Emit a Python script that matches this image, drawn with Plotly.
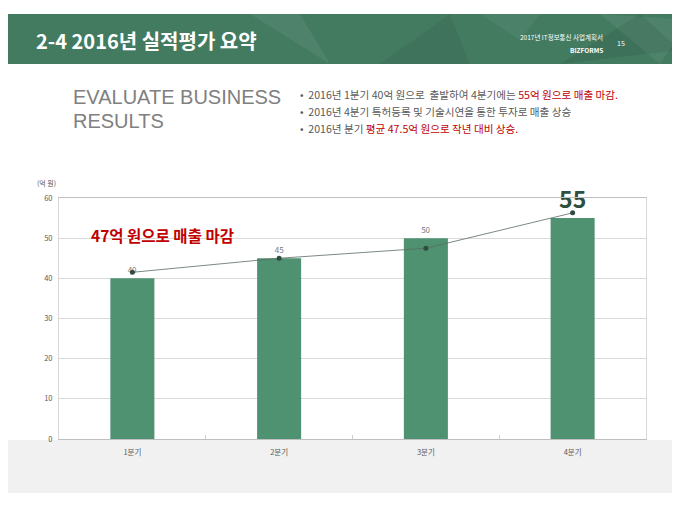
import plotly.graph_objects as go

quarters = ["1분기", "2분기", "3분기", "4분기"]
sales = [40, 45, 50, 55]
trend = [41.5, 45, 47.5, 56.3]
y_ticks = [0, 10, 20, 30, 40, 50, 60]

KR = "Noto Sans CJK KR"
W, H = 680, 510
OFF = 8  # page body margin
L, R, T, B = 59, 646, 198, 439  # reference pixel frame of plot area

def px(x):
    return (x - L) / (R - L)

def py(y):
    return (B - y) / (B - T)

fig = go.Figure()

labels = [str(v) if i < len(sales) - 1 else "<b>%d</b>" % v for i, v in enumerate(sales)]
fig.add_trace(go.Bar(
    x=quarters, y=sales, width=0.3,
    marker=dict(color="#4e9272", line=dict(width=0)),
    text=labels, textposition="outside", cliponaxis=False,
    textfont=dict(family=KR, size=[8, 8, 8, 23],
                  color=["#7a7a7a", "#7a7a7a", "#7a7a7a", "#2e4f40"]),
    hoverinfo="skip",
))
fig.add_trace(go.Scatter(
    x=quarters, y=trend, mode="lines+markers",
    line=dict(color="#5a6b62", width=0.8),
    marker=dict(color="#2f4c3e", size=5),
    hoverinfo="skip", cliponaxis=False,
))

def tri(a, b, c, color):
    return dict(type="path", xref="paper", yref="paper",
                path="M %f %f L %f %f L %f %f Z" % (px(a[0]), py(a[1]), px(b[0]), py(b[1]), px(c[0]), py(c[1])),
                fillcolor=color, line=dict(width=0), layer="below")

shapes = [
    dict(type="rect", xref="paper", yref="paper", x0=px(-10), x1=px(W + 10), y0=py(64), y1=py(14),
         fillcolor="#437b61", line=dict(width=0), layer="below"),
    tri((250, 14), (330, 64), (300, 14), "rgba(255,255,255,0.06)"),
    tri((380, 64), (450, 14), (470, 64), "rgba(0,0,0,0.06)"),
    tri((560, 64), (640, 14), (680, 50), "rgba(0,0,0,0.08)"),
    tri((600, 14), (660, 64), (690, 20), "rgba(255,255,255,0.06)"),
    tri((480, 14), (520, 40), (540, 14), "rgba(255,255,255,0.05)"),
    dict(type="rect", xref="paper", yref="paper", x0=px(-10), x1=px(W + 10), y0=py(493), y1=py(440),
         fillcolor="#f1f1f1", line=dict(width=0), layer="below"),
]

ann = [
    dict(text="<b>2-4 2016년 실적평가 요약</b>", x=px(34), y=py(40), xanchor="left", yanchor="middle",
         font=dict(family=KR, size=20, color="white")),
    dict(text="2017년 IT정보통신 사업계획서", x=px(605), y=py(37), xanchor="right", yanchor="middle",
         font=dict(family=KR, size=6.5, color="white")),
    dict(text="<b>BIZFORMS</b>", x=px(605), y=py(50), xanchor="right", yanchor="middle",
         font=dict(family=KR, size=6.5, color="white")),
    dict(text="15", x=px(621), y=py(43), xanchor="center", yanchor="middle",
         font=dict(family=KR, size=7, color="white")),
    dict(text="EVALUATE BUSINESS", x=px(71), y=py(97), xanchor="left", yanchor="middle",
         font=dict(family="Liberation Sans", size=20, color="#808080")),
    dict(text="RESULTS", x=px(71), y=py(121), xanchor="left", yanchor="middle",
         font=dict(family="Liberation Sans", size=20, color="#808080")),
    dict(text="•  2016년 1분기 40억 원으로  출발하여 4분기에는 <span style='color:#c00000'>55억 원으로 매출 마감.</span>",
         x=px(298), y=py(95), xanchor="left", yanchor="middle",
         font=dict(family=KR, size=10.6, color="#595959")),
    dict(text="•  2016년 4분기 특허등록 및 기술시연을 통한 투자로 매출 상승",
         x=px(298), y=py(112), xanchor="left", yanchor="middle",
         font=dict(family=KR, size=10.6, color="#595959")),
    dict(text="•  2016년 분기 <span style='color:#c00000'>평균 47.5억 원으로 작년 대비 상승.</span>",
         x=px(298), y=py(129), xanchor="left", yanchor="middle",
         font=dict(family=KR, size=10.6, color="#595959")),
    dict(text="(억 원)", x=px(35), y=py(183), xanchor="left", yanchor="middle",
         font=dict(family=KR, size=7, color="#595959")),
    dict(text="<b>47억 원으로 매출 마감</b>", x=px(89), y=py(235), xanchor="left", yanchor="middle",
         font=dict(family=KR, size=15.5, color="#c00000")),
]
for a in ann:
    a.update(xref="paper", yref="paper", showarrow=False)

fig.update_layout(
    width=W, height=H, autosize=False,
    margin=dict(l=L - OFF, r=W - R + OFF, t=T - OFF, b=H - B + OFF),
    paper_bgcolor="white", plot_bgcolor="rgba(0,0,0,0)",
    showlegend=False, bargap=0.7,
    shapes=shapes, annotations=ann,
    font=dict(family=KR, color="#595959"),
)
fig.update_xaxes(
    showgrid=False, showline=True, linecolor="#bfbfbf", linewidth=1,
    mirror=True, ticks="inside", tickson="boundaries", ticklen=4, tickcolor="#d0d0d0",
    tickfont=dict(size=7.5, color="#595959"),
    ticklabelstandoff=6,
)
fig.update_yaxes(
    range=[0, 60], tickvals=y_ticks, showgrid=True, gridcolor="#d9d9d9", gridwidth=1,
    showline=True, linecolor="#d9d9d9", mirror=True, zeroline=False,
    tickfont=dict(size=7.5, color="#595959"), ticks="", ticklabelstandoff=4,
)

fig.write_html("out.html")
